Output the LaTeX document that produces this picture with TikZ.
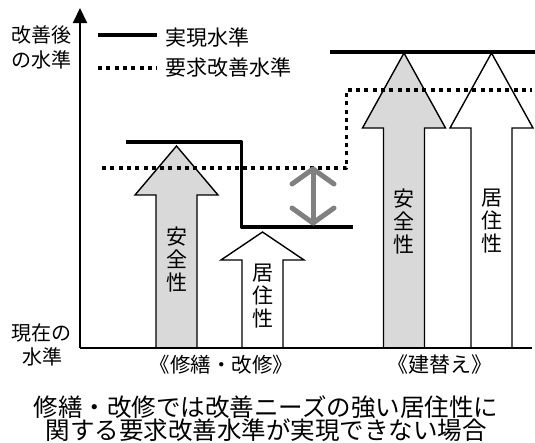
\documentclass[tikz,border=0pt]{standalone}
\usepackage{fontspec}
\setmainfont{Noto Sans CJK JP}
\usetikzlibrary{arrows.meta,positioning}
\definecolor{safegray}{HTML}{D9D9D9}
\definecolor{gapgray}{HTML}{808080}
\newcommand{\fs}[2]{\fontsize{#1}{#2}\selectfont}
% centre x, tip y, head base y, fill
\newcommand{\blockarrow}[4]{%
  \filldraw[fill=#4, line width=1.4pt, line join=miter]
    (#1-20.5,348) -- (#1-20.5,#3) -- (#1-41.5,#3) -- (#1,#2)
    -- (#1+41.5,#3) -- (#1+20.5,#3) -- (#1+20.5,348) -- cycle;}
\begin{document}
\begin{tikzpicture}[x=1pt, y=-1pt, line join=round]
	\useasboundingbox (0,0) rectangle (535,442);
	\tikzset{
		level/.style={line width=3.3pt},
		need/.style={line width=3.5pt, dash pattern=on 4pt off 4.3pt},
		lbl/.style={inner sep=0pt, align=center, font=\fs{20}{25}},
		vlbl/.style={inner sep=0pt, align=center, font=\fs{21}{23}},
		gap/.style={gapgray, line width=5pt, line cap=round, line join=round},
	}
	\coordinate (O) at (80,348);
	\coordinate (ytop) at (80,8);
	\coordinate (xend) at (532,348);
	% arrows of performance
	\blockarrow{176.5}{146}{195}{safegray}
	\blockarrow{262.5}{232}{260}{white}
	\blockarrow{404}{53}{128}{safegray}
	\blockarrow{491.5}{53}{128}{white}
	\node[vlbl] (safeL) at (176.5,259) {安\\全\\性};
	\node[vlbl] (liveL) at (262.5,296) {居\\住\\性};
	\node[vlbl] (safeR) at (404,221) {安\\全\\性};
	\node[vlbl] (liveR) at (491.5,221) {居\\住\\性};
	% axes
	\draw[line width=2pt, -{Triangle[width=14pt,length=15pt]}] (O) -- (ytop);
	\draw[line width=1.6pt] (O) -- (xend);
	% levels
	\draw[need] (102,168) -- (346.5,168) -- (346.5,90) -- (532,90);
	\draw[level] (126,142) -- (241.5,142) -- (241.5,227) -- (353,227);
	\draw[level] (330,52) -- (535,52);
	% gap between the levels
	\coordinate (gapT) at (313,169);
	\coordinate (gapB) at (313,223);
	\draw[gap] (gapT) -- (gapB);
	\draw[gap] ([shift={(-21,15)}]gapT) -- (gapT) -- ([shift={(21,15)}]gapT);
	\draw[gap] ([shift={(-21,-15)}]gapB) -- (gapB) -- ([shift={(21,-15)}]gapB);
	% legend
	\coordinate (realA) at (98,35); \coordinate (realB) at (157,35);
	\coordinate (needA) at (98,68); \coordinate (needB) at (157,68);
	\draw[level] (realA) -- (realB);
	\draw[need] (needA) -- (needB);
	\node[lbl, font=\fs{21}{25}, anchor=west] (realLbl) at (165,38) {実現水準};
	\node[lbl, font=\fs{21}{25}, anchor=west] (needLbl) at (165,68) {要求改善水準};
	% texts
	\node[lbl] (after) at (42,47) {改善後\\の水準};
	\node[lbl, font=\fs{20}{24}] (now) at (42,345) {現在の\\水準};
	\node[lbl, font=\fs{20.5}{25}] (repair) at (221.5,365) {《修繕・改修》};
	\node[lbl, font=\fs{21}{25}] (rebuild) at (440,365) {《建替え》};
	\node[lbl, font=\fs{24.5}{23}] (caption) at (266,419)
		{修繕・改修では改善ニーズの強い居住性に\\関する要求改善水準が実現できない場合};
\end{tikzpicture}
\end{document}
